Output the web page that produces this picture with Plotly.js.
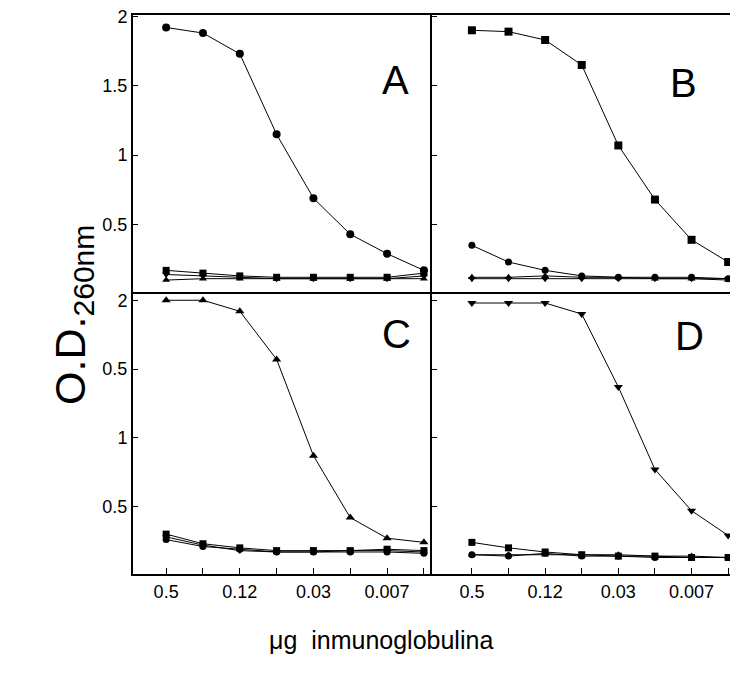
<!DOCTYPE html>
<html><head><meta charset="utf-8">
<script src="https://cdn.plot.ly/plotly-3.0.1.min.js"></script>
<style>html,body{margin:0;padding:0;background:#fff}</style>
</head><body><div id="chart" style="width:730px;height:680px"></div>
<script>
const xIdx = [0,1,2,3,4,5,6,7];
const xTickText = ["0.5","","0.12","","0.03","","0.007",""];
const yTopTickVals = [0.5,1,1.5,2];
const yTopTickText = ["0.5","1","1.5","2"];
const yBotTickVals = [0.5,1,1.5,2];
const yBotTickText = ["0.5","1","0.5","2"];

// Panel A
const A_circle   = [1.92,1.88,1.73,1.15,0.69,0.43,0.29,0.17];
const A_square   = [0.17,0.15,0.13,0.12,0.12,0.12,0.12,0.15];
const A_triDown  = [0.14,0.13,0.12,0.11,0.11,0.11,0.11,0.13];
const A_triUp    = [0.10,0.11,0.11,0.11,0.11,0.11,0.11,0.11];
// Panel B
const B_square   = [1.90,1.89,1.83,1.65,1.07,0.68,0.39,0.23];
const B_circle   = [0.35,0.23,0.17,0.13,0.12,0.12,0.12,0.11];
const B_triUp    = [0.12,0.12,0.13,0.12,0.12,0.11,0.11,0.10];
const B_triDown  = [0.11,0.11,0.11,0.11,0.11,0.11,0.11,0.11];
// Panel C
const C_triUp    = [2.00,2.00,1.92,1.57,0.87,0.42,0.27,0.24];
const C_circle   = [0.26,0.21,0.19,0.17,0.17,0.17,0.17,0.16];
const C_square   = [0.30,0.23,0.20,0.18,0.18,0.18,0.19,0.18];
const C_triDown  = [0.28,0.22,0.18,0.17,0.17,0.18,0.18,0.17];
// Panel D
const D_triDown  = [1.98,1.98,1.98,1.90,1.37,0.77,0.47,0.29];
const D_square   = [0.24,0.20,0.17,0.15,0.14,0.14,0.13,0.13];
const D_circle   = [0.15,0.14,0.16,0.14,0.14,0.13,0.13,0.13];
const D_triUp    = [0.15,0.15,0.15,0.15,0.15,0.14,0.14,0.13];

const panelLabels = ["A","B","C","D"];

function tr(y, sym, xa, ya, size){
  return {x:xIdx, y:y, xaxis:xa, yaxis:ya, mode:'lines+markers', type:'scatter',
    line:{color:'#000', width:1},
    marker:{symbol:sym, color:'#000', size:size||8},
    hoverinfo:'skip', showlegend:false, cliponaxis:true};
}
const traces = [
  tr(A_square,'square','x','y',7), tr(A_triUp,'triangle-up','x','y',7), tr(A_triDown,'triangle-down','x','y',7), tr(A_circle,'circle','x','y',8),
  tr(B_circle,'circle','x2','y2',7), tr(B_triUp,'triangle-up','x2','y2',7), tr(B_triDown,'triangle-down','x2','y2',7), tr(B_square,'square','x2','y2',8),
  tr(C_circle,'circle','x3','y3',7), tr(C_square,'square','x3','y3',7), tr(C_triDown,'triangle-down','x3','y3',7), tr(C_triUp,'triangle-up','x3','y3',8),
  tr(D_square,'square','x4','y4',7), tr(D_circle,'circle','x4','y4',7), tr(D_triUp,'triangle-up','x4','y4',7), tr(D_triDown,'triangle-down','x4','y4',8)
];

const W=730, H=680;
const px = v => v/W, py = v => 1 - v/H;
const font = {family:'Liberation Sans, Arial, sans-serif', color:'#000'};

function xax(dom, range, anchor, labels, mirror){
  return {domain:dom, range:range, anchor:anchor, showgrid:false, zeroline:false,
    showline:true, linecolor:'#000', linewidth:2, mirror:mirror,
    tickmode:'array', tickvals:xIdx, ticktext:xTickText,
    ticks:labels?'inside':'', ticklen:6, tickcolor:'#000',
    showticklabels:labels, tickfont:Object.assign({size:18}, font)};
}
function yax(dom, range, anchor, vals, text, labels){
  return {domain:dom, range:range, anchor:anchor, showgrid:false, zeroline:false,
    showline:true, linecolor:'#000', linewidth:2, mirror:false,
    tickmode:'array', tickvals:vals, ticktext:text,
    ticks:'inside', ticklen:5, tickcolor:'#000',
    showticklabels:labels, tickfont:Object.assign({size:18}, font)};
}

const xL=[px(133),px(432)], xR=[px(432),px(730)];
const yT=[py(292),py(15)], yB=[py(574),py(292)];
const xRangeL=[-0.9,7.22], xRangeR=[-1.09,7.05];
const yRangeT=[0.014,2.01], yRangeB=[0.01,2.06];

const layout = {
  width:W, height:H, margin:{l:0,r:0,t:0,b:0},
  paper_bgcolor:'#fff', plot_bgcolor:'#fff', showlegend:false,
  xaxis: xax(xL, xRangeL, 'y', false, true),
  yaxis: yax(yT, yRangeT, 'x', yTopTickVals, yTopTickText, true),
  xaxis2: xax(xR, xRangeR, 'y2', false, true),
  yaxis2: yax(yT, yRangeT, 'x2', yTopTickVals, yTopTickText, false),
  xaxis3: xax(xL, xRangeL, 'y3', true, false),
  yaxis3: yax(yB, yRangeB, 'x3', yBotTickVals, yBotTickText, true),
  xaxis4: xax(xR, xRangeR, 'y4', true, false),
  yaxis4: yax(yB, yRangeB, 'x4', yBotTickVals, yBotTickText, false),
  annotations:[
    {text:panelLabels[0], xref:'paper', yref:'paper', x:px(395), y:py(56), showarrow:false, font:Object.assign({size:40}, font)},
    {text:panelLabels[1], xref:'paper', yref:'paper', x:px(699), y:py(59), showarrow:false, font:Object.assign({size:40}, font)},
    {text:panelLabels[2], xref:'paper', yref:'paper', x:px(396), y:py(334), showarrow:false, font:Object.assign({size:40}, font)},
    {text:panelLabels[3], xref:'paper', yref:'paper', x:px(706), y:py(336), showarrow:false, font:Object.assign({size:40}, font)},
    {text:'O.D.<sub>260nm</sub>', xref:'paper', yref:'paper', x:px(44), y:py(315), showarrow:false, textangle:-90, font:Object.assign({size:43}, font)},
    {text:'μg  inmunoglobulina', xref:'paper', yref:'paper', x:px(381), y:py(656), showarrow:false, font:Object.assign({size:25}, font)}
  ]
};
Plotly.newPlot('chart', traces, layout, {staticPlot:true, displayModeBar:false});
</script></body></html>
